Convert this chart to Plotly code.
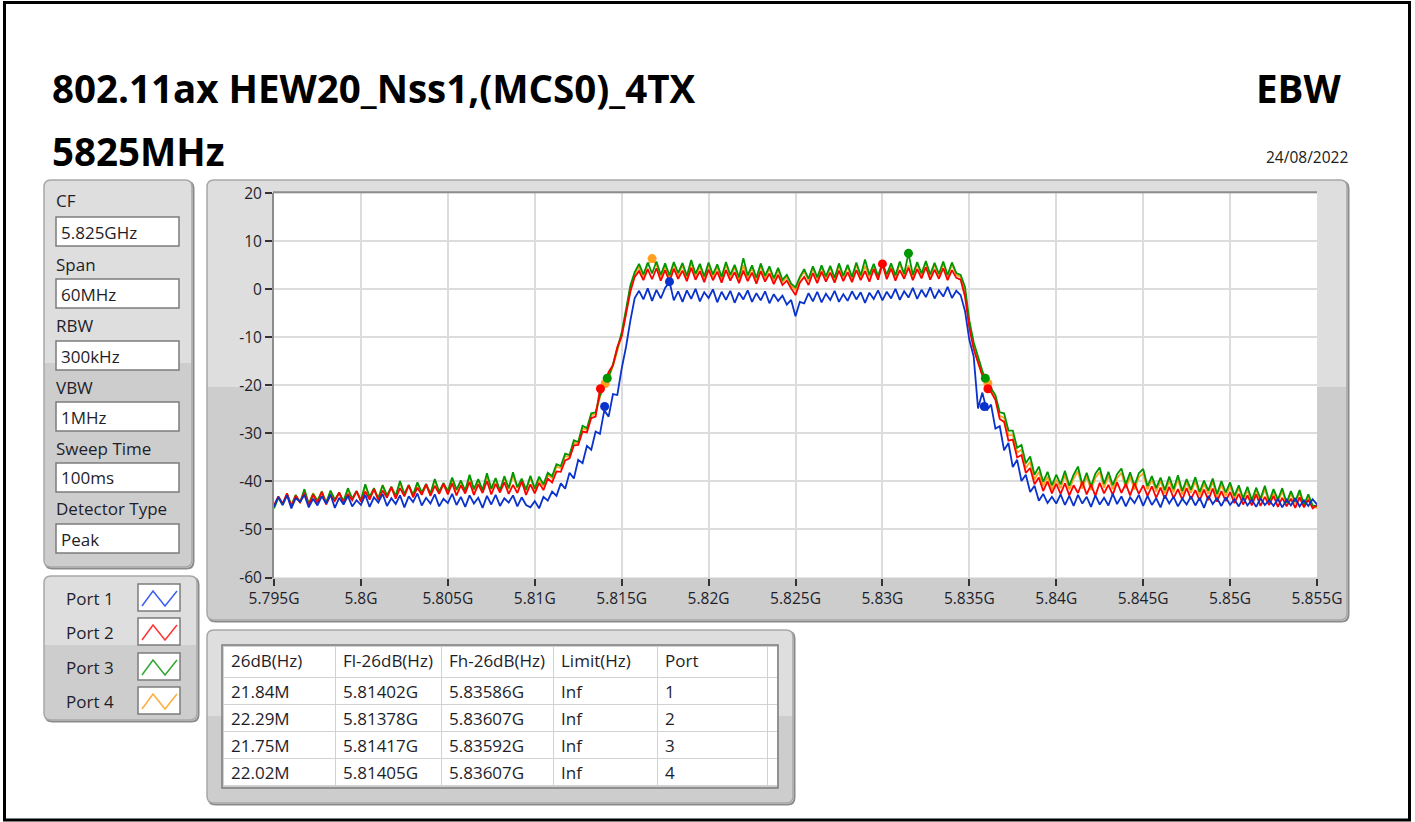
import numpy as np
import plotly.graph_objects as go

W, H = 1415, 822

# ---------------- data ----------------
f_start_ghz = 5.795
f_step_ghz = 0.00025          # 0.25 MHz sampling of the read-off traces
x_tick_vals = [5.795, 5.800, 5.805, 5.810, 5.815, 5.820, 5.825, 5.830, 5.835, 5.840, 5.845, 5.850, 5.855]
x_tick_text = ["5.795G", "5.8G", "5.805G", "5.81G", "5.815G", "5.82G", "5.825G", "5.83G", "5.835G",
               "5.84G", "5.845G", "5.85G", "5.855G"]
y_tick_vals = [20, 10, 0, -10, -20, -30, -40, -50, -60]
y_tick_text = ["20", "10", "0", "-10", "-20", "-30", "-40", "-50", "-60"]

port_names = ["Port 1", "Port 2", "Port 3", "Port 4"]

port1_dbm = [
    -45.3, -43.2, -44.9, -42.9, -45.6, -43.5, -44.2, -42.8, -45.4, -43.6, -45.0, -43.1, -44.6, -42.7, -45.5, -43.4, -44.8, -43.0, -45.2, -43.9,
    -44.9, -42.8, -45.3, -43.3, -44.4, -42.6, -45.1, -43.5, -44.7, -42.9, -45.4, -43.1, -44.3, -42.5, -45.0, -43.4, -44.6, -42.7, -45.2, -43.6,
    -44.5, -42.6, -44.9, -43.2, -45.3, -42.9, -44.6, -43.4, -45.5, -43.0, -44.8, -42.8, -45.1, -43.5, -44.4, -42.9, -45.2, -43.3, -44.9, -45.4,
    -44.1, -45.6, -43.2, -44.0, -42.1, -43.0, -40.4, -41.5, -38.2, -39.4, -35.5, -36.2, -32.6, -33.4, -29.6, -30.1, -25.2, -26.5, -21.8, -22.0, -16.5, -12.0, -6.5, -1.8,
    -0.3, -2.1, 0.2, -2.4, -0.1, -1.9, 0.3, 1.6, -2.3, -0.4, -2.6, -0.2, -2.0, 0.1, -2.5, -0.6, -1.8, 0.0, -2.7, -0.5, -2.2, -0.3, -2.8, -0.7, -2.1, -0.2, -2.6, -0.8, -2.3, -0.4, -2.9, -1.0, -2.4, -1.3, -3.2, -2.2,
    -5.6, -2.6,
    -2.9, -0.8, -2.5, -0.5, -2.7, -0.9, -2.2, -0.3, -2.6, -1.0, -2.4, -0.4, -2.1, -0.6, -2.8, -0.7, -2.0, -0.2, -2.3, -0.5, -1.9, 0.1, -2.2, -0.4, -1.7, 0.3, -2.0, -0.1, -1.6, 0.4, -1.9, -0.2, -1.5, 0.5, -1.8, -0.3,
    -1.2, -4.5, -10.5, -14.0, -24.8, -21.5, -25.2, -24.0, -29.0, -28.5, -33.5, -32.0, -37.0, -35.5, -39.9, -38.6, -42.2, -40.9, -44.0, -42.6, -44.5, -43.2, -44.6,
    -42.7, -44.9, -43.0, -45.1, -42.8, -44.6, -43.2, -45.3, -42.9, -44.8, -43.4, -45.0, -42.6, -44.7, -43.1, -45.2, -43.3, -44.5, -42.8, -45.1,
    -43.0, -44.9, -43.5, -45.4, -42.9, -44.6, -43.2, -45.2, -43.6, -44.8, -43.1, -45.0, -43.4, -45.5, -43.0, -44.7, -43.5, -45.1, -43.3, -44.9,
    -43.7, -45.2, -43.4, -45.0, -43.8, -45.3, -43.5, -44.9, -43.9, -45.1, -43.6, -45.4, -43.8, -45.0, -43.5, -45.2, -43.9, -45.1, -43.7, -44.8,
]

port2_dbm = [
    -45.0, -43.1, -44.6, -42.5, -45.2, -43.0, -44.3, -42.4, -44.9, -42.8, -44.5, -42.2, -44.8, -42.9, -44.1, -42.3, -44.6, -42.6, -43.9, -42.0,
    -44.2, -42.1, -43.8, -41.6, -43.9, -41.9, -43.4, -41.2, -43.6, -41.4, -43.1, -40.8, -43.3, -41.3, -42.8, -40.6, -43.0, -40.9, -42.6, -40.5,
    -42.7, -40.4, -42.9, -40.8, -42.5, -40.1, -42.8, -40.6, -42.4, -39.9, -42.7, -40.5, -42.3, -40.2, -42.6, -40.7, -42.4, -40.0, -42.8, -40.6,
    -42.5, -40.3, -41.8, -39.4, -40.2, -37.9, -38.0, -35.6, -35.2, -32.5, -32.4, -29.6, -29.8, -26.8, -26.5, -20.8, -20.0, -17.2, -15.8, -12.0, -9.8, -5.0, -0.5, 2.6,
    3.8, 1.9, 4.2, 2.1, 4.4, 1.8, 4.0, 1.6, 4.3, 2.2, 3.9, 1.7, 4.5, 2.0, 3.8, 1.5, 4.1, 1.9, 3.7, 1.4, 4.0, 1.8, 3.6, 1.3, 3.9, 1.7, 3.5, 1.2, 3.8, 1.6, 3.3, 1.1, 3.0, 0.9, 1.8, 0.2,
    -1.2, 1.4,
    2.6, 0.9, 3.4, 1.3, 3.7, 1.6, 3.5, 1.4, 3.9, 1.7, 3.6, 1.5, 4.0, 1.9, 3.8, 1.6, 4.2, 2.0, 5.3, 2.1, 4.3, 1.8, 4.0, 2.2, 4.5, 1.9, 4.2, 2.3, 4.6, 2.0, 4.1, 2.2, 4.4, 1.9, 4.0, 2.4,
    2.0, -1.5, -8.0, -12.5, -15.5, -18.0, -19.8, -21.5, -23.0, -27.0, -27.6, -31.5, -31.3, -35.0, -34.5, -38.2, -37.2, -40.6, -39.2, -42.0, -40.0, -42.5, -40.5,
    -42.6, -40.4, -42.9, -40.8, -42.4, -40.1, -42.7, -40.6, -43.0, -40.3, -42.5, -40.7, -42.8, -40.2, -42.4, -40.5, -42.9, -40.4, -42.6, -40.8,
    -43.0, -41.0, -43.4, -41.3, -43.6, -41.1, -43.5, -41.6, -43.8, -41.4, -43.7, -41.8, -44.0, -41.7, -43.9, -41.5, -44.2, -42.0, -44.1, -42.2,
    -44.5, -42.6, -44.8, -42.9, -45.0, -42.7, -45.1, -43.2, -44.9, -43.0, -45.3, -43.4, -45.2, -43.6, -45.5, -43.3, -45.4, -43.8, -45.6, -44.9,
]

port3_dbm = [
    -45.6, -43.4, -44.9, -42.5, -45.0, -42.8, -44.4, -41.6, -44.7, -42.6, -44.0, -42.1, -44.5, -41.9, -43.8, -42.3, -44.1, -41.4, -43.6, -42.0,
    -43.9, -40.6, -43.2, -41.4, -43.5, -40.8, -42.9, -41.1, -43.0, -39.9, -42.6, -40.7, -42.8, -40.2, -42.3, -40.5, -42.5, -39.5, -42.1, -40.3,
    -42.0, -39.2, -41.7, -39.8, -41.9, -38.6, -41.6, -39.5, -41.8, -38.3, -41.5, -39.3, -41.9, -38.9, -41.4, -38.1, -41.2, -39.4, -41.7, -38.8,
    -41.5, -39.0, -40.6, -38.2, -38.9, -36.4, -36.8, -34.2, -34.5, -31.4, -31.8, -28.4, -28.9, -25.8, -25.6, -22.1, -19.8, -18.2, -15.6, -12.4, -9.0, -4.2, 0.8, 3.6,
    5.3, 3.1, 5.6, 3.3, 5.8, 3.0, 5.4, 2.9, 5.7, 3.4, 5.5, 2.8, 6.1, 3.2, 5.3, 2.7, 5.6, 3.1, 5.2, 2.6, 5.7, 3.0, 5.1, 2.5, 6.5, 2.9, 5.0, 2.4, 5.4, 2.8, 4.8, 2.3, 4.5, 2.0, 3.0, 1.2,
    0.4, 2.6,
    4.2, 2.2, 4.8, 2.5, 5.0, 2.7, 4.9, 2.4, 5.4, 2.8, 5.1, 2.6, 5.6, 2.9, 6.2, 3.0, 5.3, 2.8, 5.5, 3.1, 5.4, 2.9, 5.8, 3.2, 7.5, 3.0, 5.7, 3.3, 5.9, 3.1, 5.5, 3.2, 5.8, 3.0, 5.6, 3.4,
    3.0, 0.5, -6.5, -11.0, -14.2, -17.0, -19.2, -20.6, -22.0, -25.6, -25.8, -29.4, -29.4, -33.0, -32.4, -36.2, -34.8, -38.6, -36.9, -40.1, -38.0, -40.8, -38.6,
    -40.6, -37.8, -40.9, -38.6, -36.9, -40.7, -38.2, -41.0, -38.4, -37.1, -40.5, -38.0, -40.8, -38.5, -37.3, -40.6, -38.1, -40.9, -38.3, -37.4,
    -41.0, -38.9, -41.4, -39.2, -41.8, -39.0, -41.6, -38.7, -42.0, -39.5, -41.7, -39.1, -42.2, -39.8, -41.9, -39.4, -42.6, -39.9, -42.3, -40.2,
    -43.0, -40.8, -43.5, -41.1, -43.9, -41.3, -43.6, -40.9, -44.1, -41.6, -43.8, -41.4, -44.4, -42.0, -44.2, -41.8, -44.9, -42.7, -45.0, -45.2,
]

port4_dbm = [
    -45.4, -43.2, -44.8, -42.6, -45.1, -42.9, -44.5, -42.2, -44.6, -42.4, -44.2, -42.0, -44.4, -42.1, -43.9, -42.4, -44.3, -41.8, -43.7, -42.1,
    -44.0, -40.9, -43.4, -41.6, -43.6, -40.7, -43.1, -41.3, -43.2, -40.3, -42.8, -40.9, -42.9, -40.4, -42.5, -40.8, -42.7, -39.7, -42.3, -40.6,
    -42.3, -39.6, -41.9, -40.1, -42.1, -39.1, -41.8, -39.9, -42.0, -38.9, -41.7, -39.6, -42.1, -39.3, -41.6, -38.8, -41.4, -39.8, -41.9, -39.2,
    -41.8, -39.5, -41.0, -38.6, -39.3, -36.9, -37.2, -34.7, -34.9, -31.9, -32.1, -28.9, -29.3, -26.2, -26.0, -22.4, -20.1, -18.4, -16.0, -13.0, -9.6, -4.8, 0.3, 3.1,
    4.8, 2.6, 5.1, 6.4, 5.2, 2.5, 4.9, 2.4, 5.3, 2.9, 5.0, 2.3, 5.6, 2.7, 4.8, 2.2, 5.1, 2.6, 4.7, 2.1, 5.2, 2.5, 4.6, 2.0, 5.0, 2.4, 4.5, 1.9, 4.9, 2.3, 4.3, 1.8, 4.0, 1.5, 2.6, 0.8,
    -0.2, 2.2,
    3.8, 1.8, 4.4, 2.1, 4.6, 2.3, 4.5, 2.0, 5.0, 2.4, 4.7, 2.2, 5.2, 2.5, 4.9, 2.6, 4.8, 2.4, 5.1, 2.7, 5.0, 2.5, 5.4, 2.8, 5.0, 2.6, 5.3, 2.9, 5.5, 2.7, 5.1, 2.8, 5.4, 2.6, 5.2, 3.0,
    2.6, -0.5, -7.0, -11.8, -15.0, -17.4, -19.2, -21.0, -22.6, -26.4, -26.7, -30.4, -30.3, -34.0, -33.4, -37.2, -35.9, -39.6, -38.0, -41.0, -39.0, -41.7, -39.6,
    -41.4, -38.7, -41.7, -39.4, -37.8, -41.5, -39.0, -41.8, -39.2, -38.0, -41.3, -38.9, -41.6, -39.3, -38.2, -41.4, -39.0, -41.7, -39.1, -38.3,
    -41.7, -39.6, -42.1, -39.9, -42.5, -39.8, -42.3, -39.5, -42.7, -40.2, -42.4, -39.9, -42.9, -40.5, -42.6, -40.1, -43.2, -40.6, -43.0, -40.9,
    -43.6, -41.4, -44.0, -41.8, -44.4, -41.9, -44.1, -41.6, -44.6, -42.2, -44.3, -42.0, -44.8, -42.5, -44.6, -42.3, -45.2, -43.1, -45.3, -45.5,
]

# peak markers
peak_ghz = [5.81775, 5.83000, 5.83150, 5.81675]
peak_dbm = [1.6, 5.3, 7.5, 6.4]

# results table
ebw_mhz = [21.84, 22.29, 21.75, 22.02]
fl_ghz = [5.81402, 5.81378, 5.81417, 5.81405]
fh_ghz = [5.83586, 5.83607, 5.83592, 5.83607]
limit_txt = ["Inf", "Inf", "Inf", "Inf"]
port_ids = [1, 2, 3, 4]
table_headers = ["26dB(Hz)", "Fl-26dB(Hz)", "Fh-26dB(Hz)", "Limit(Hz)", "Port", ""]

ctrl_labels = ["CF", "Span", "RBW", "VBW", "Sweep Time", "Detector Type"]
ctrl_values = ["5.825GHz", "60MHz", "300kHz", "1MHz", "100ms", "Peak"]

title_main = "802.11ax HEW20_Nss1,(MCS0)_4TX"
title_freq = "5825MHz"
title_test = "EBW"
date_text = "24/08/2022"

# ---------------- styles ----------------
trace_colors = ["#0a32cc", "#ff0000", "#009600", "#ffa020"]
icon_colors = ["#3c5ff0", "#ff3434", "#30a830", "#ffac3a"]
UI_FONT = "Open Sans"
UI_SIZE = 17
TITLE_SIZE = 38.5
PANEL_HI = "#dedede"
PANEL_LO = "#cdcdcd"

series = [port1_dbm, port2_dbm, port3_dbm, port4_dbm]
for s in series:
    assert len(s) == 241, len(s)
freq = np.round(f_start_ghz + f_step_ghz * np.arange(len(port1_dbm)), 6)


def X(p):
    return p / W


def Y(p):
    return 1 - p / H


def rrect(x0, y0, x1, y1, r, top_only_to=None):
    rx, ry = r / W, r / H
    a, b, c, d = X(x0), Y(y0), X(x1), Y(y1)
    if top_only_to is not None:
        s = Y(top_only_to)
        return (f"M {a},{s} L {a},{b - ry} Q {a},{b} {a + rx},{b} L {c - rx},{b} "
                f"Q {c},{b} {c},{b - ry} L {c},{s} Z")
    return (f"M {a + rx},{b} L {c - rx},{b} Q {c},{b} {c},{b - ry} L {c},{d + ry} Q {c},{d} {c - rx},{d} "
            f"L {a + rx},{d} Q {a},{d} {a},{d + ry} L {a},{b - ry} Q {a},{b} {a + rx},{b} Z")


shapes = []


def panel(x0, y0, x1, y1, split, r=7):
    shapes.append(dict(type="path", path=rrect(x0 + 1.5, y0 + 1.5, x1 + 1.5, y1 + 1.5, r),
                       xref="paper", yref="paper", line=dict(color="#8a8a8a", width=2),
                       fillcolor="rgba(0,0,0,0)", layer="below"))
    shapes.append(dict(type="path", path=rrect(x0, y0, x1, y1, r), xref="paper", yref="paper",
                       line=dict(width=0), fillcolor=PANEL_LO, layer="below"))
    shapes.append(dict(type="path", path=rrect(x0, y0, x1, y1, r, top_only_to=split), xref="paper",
                       yref="paper", line=dict(width=0), fillcolor=PANEL_HI, layer="below"))
    shapes.append(dict(type="path", path=rrect(x0, y0, x1, y1, r), xref="paper", yref="paper",
                       line=dict(color="#a8a8a8", width=1.5), fillcolor="rgba(0,0,0,0)", layer="below"))


def box(x0, y0, x1, y1, fill="white", layer="above"):
    shapes.append(dict(type="rect", xref="paper", yref="paper", x0=X(x0), y0=Y(y1), x1=X(x1), y1=Y(y0),
                       line=dict(color="#7c7c7c", width=1.5), fillcolor=fill, layer=layer))


# outer frame
shapes.append(dict(type="rect", xref="paper", yref="paper", x0=X(4.5), y0=Y(820), x1=X(1409.5), y1=Y(2.5),
                   line=dict(color="black", width=3), fillcolor="rgba(0,0,0,0)", layer="below"))

# panels
panel(44, 180, 192, 567, 363)
panel(207, 180, 1347, 620, 387)
panel(44, 576, 197, 720, 645)
panel(207, 630, 793, 803, 716)

# plot area
PX0, PX1, PY0, PY1 = 274, 1317, 193.3, 577.5
shapes.append(dict(type="rect", xref="paper", yref="paper", x0=X(PX0), y0=Y(PY1), x1=X(PX1), y1=Y(PY0),
                   line=dict(width=0), fillcolor="white", layer="below"))
shapes.append(dict(type="line", xref="paper", yref="paper", x0=X(PX0 - 1), y0=Y(PY0 - 1), x1=X(PX1), y1=Y(PY0 - 1),
                   line=dict(color="#8c8c8c", width=2), layer="above"))

annotations = []

# title texts
annotations.append(dict(text=f"<b>{title_main}</b>", x=X(50), y=Y(88), xref="paper", yref="paper",
                        xanchor="left", yanchor="middle", showarrow=False,
                        font=dict(family=UI_FONT, size=TITLE_SIZE, color="black")))
annotations.append(dict(text=f"<b>{title_freq}</b>", x=X(50), y=Y(151), xref="paper", yref="paper",
                        xanchor="left", yanchor="middle", showarrow=False,
                        font=dict(family=UI_FONT, size=TITLE_SIZE, color="black")))
annotations.append(dict(text=f"<b>{title_test}</b>", x=X(1343), y=Y(88), xref="paper", yref="paper",
                        xanchor="right", yanchor="middle", showarrow=False,
                        font=dict(family=UI_FONT, size=TITLE_SIZE, color="black")))
annotations.append(dict(text=date_text, x=X(1350), y=Y(157), xref="paper", yref="paper",
                        xanchor="right", yanchor="middle", showarrow=False,
                        font=dict(family=UI_FONT, size=15.5, color="#202020")))

# control panel
label_y = [201, 264, 325, 387, 448, 508]
box_top = [217, 279, 341, 402, 463, 524]
for lab, val, ly, bt in zip(ctrl_labels, ctrl_values, label_y, box_top):
    annotations.append(dict(text=lab, x=X(54), y=Y(ly), xref="paper", yref="paper", xanchor="left",
                            yanchor="middle", showarrow=False,
                            font=dict(family=UI_FONT, size=UI_SIZE, color="#1e1e2a")))
    box(56, bt, 179, bt + 29)
    annotations.append(dict(text=val, x=X(59), y=Y(bt + 15), xref="paper", yref="paper", xanchor="left",
                            yanchor="middle", showarrow=False,
                            font=dict(family=UI_FONT, size=UI_SIZE, color="#1e1e2a")))

# legend panel
leg_y = [598, 632, 667, 701]
leg_box = [584, 618, 653, 687]
for name, col, ly, bt in zip(port_names, icon_colors, leg_y, leg_box):
    annotations.append(dict(text=name, x=X(116), y=Y(ly), xref="paper", yref="paper", xanchor="right",
                            yanchor="middle", showarrow=False,
                            font=dict(family=UI_FONT, size=UI_SIZE, color="#1e1e2a")))
    box(138, bt, 180, bt + 27)
    pts = [(142, bt + 22), (153, bt + 7), (165, bt + 22), (177, bt + 7)]
    path = "M " + " L ".join(f"{X(a)},{Y(b)}" for a, b in pts)
    shapes.append(dict(type="path", path=path, xref="paper", yref="paper",
                       line=dict(color=col, width=1.5), layer="above"))

# table border
shapes.append(dict(type="rect", xref="paper", yref="paper", x0=X(222), y0=Y(788), x1=X(778), y1=Y(645),
                   line=dict(color="#7c7c7c", width=1.5), fillcolor="rgba(0,0,0,0)", layer="above"))

fig = go.Figure()

# traces (orange at bottom, blue on top)
for idx in [3, 2, 1, 0]:
    fig.add_trace(go.Scatter(x=freq, y=series[idx], mode="lines", name=port_names[idx],
                             line=dict(color=trace_colors[idx], width=1.8), hoverinfo="skip",
                             showlegend=False, xaxis="x", yaxis="y"))

# markers: peaks and -26 dB crossing points
for idx in [3, 2, 1, 0]:
    lvl = peak_dbm[idx] - 26
    fig.add_trace(go.Scatter(x=[peak_ghz[idx], fl_ghz[idx], fh_ghz[idx]], y=[peak_dbm[idx], lvl, lvl],
                             mode="markers", marker=dict(color=trace_colors[idx], size=9),
                             showlegend=False, hoverinfo="skip", xaxis="x", yaxis="y"))

# results table
fig.add_trace(go.Table(
    domain=dict(x=[X(223), X(777)], y=[Y(787), Y(646)]),
    columnwidth=[112, 106, 112, 104, 110, 10],
    header=dict(values=table_headers, align="left", height=31,
                fill_color="white", line=dict(color="#d2d2d2", width=1),
                font=dict(family=UI_FONT, size=UI_SIZE, color="#1e1e2a")),
    cells=dict(values=[[f"{v:.2f}M" for v in ebw_mhz], [f"{v:.5f}G" for v in fl_ghz],
                       [f"{v:.5f}G" for v in fh_ghz], limit_txt, [str(p) for p in port_ids],
                       ["", "", "", ""]],
               align="left", height=27, fill_color="white", line=dict(color="#d2d2d2", width=1),
               font=dict(family=UI_FONT, size=UI_SIZE, color="#1e1e2a")),
))

fig.update_layout(
    width=W, height=H,
    margin=dict(l=0, r=0, t=0, b=0, pad=0, autoexpand=False),
    paper_bgcolor="white",
    plot_bgcolor="rgba(0,0,0,0)",
    shapes=shapes,
    annotations=annotations,
    showlegend=False,
    xaxis=dict(domain=[X(PX0), X(PX1)], range=[5.795, 5.855], tickvals=x_tick_vals, ticktext=x_tick_text,
               showgrid=True, gridcolor="#dcdcdc", gridwidth=1.6, zeroline=False, automargin=False,
               ticks="outside", ticklen=7, tickwidth=1.5, tickcolor="#333333",
               tickfont=dict(family=UI_FONT, size=15.5, color="#1e1e2a"), showline=False, fixedrange=True),
    yaxis=dict(domain=[Y(PY1), Y(PY0)], range=[-60, 20], tickvals=y_tick_vals, ticktext=y_tick_text,
               showgrid=True, gridcolor="#dcdcdc", gridwidth=1.6, zeroline=False, automargin=False,
               ticks="outside", ticklen=7, tickwidth=1.5, tickcolor="#333333",
               tickfont=dict(family=UI_FONT, size=15.5, color="#1e1e2a"),
               showline=True, linecolor="#8c8c8c", linewidth=2, fixedrange=True),
)

fig.write_html("out.html", config={"displayModeBar": False},
               post_script="document.body.style.margin='0';document.body.style.overflow='hidden';")
